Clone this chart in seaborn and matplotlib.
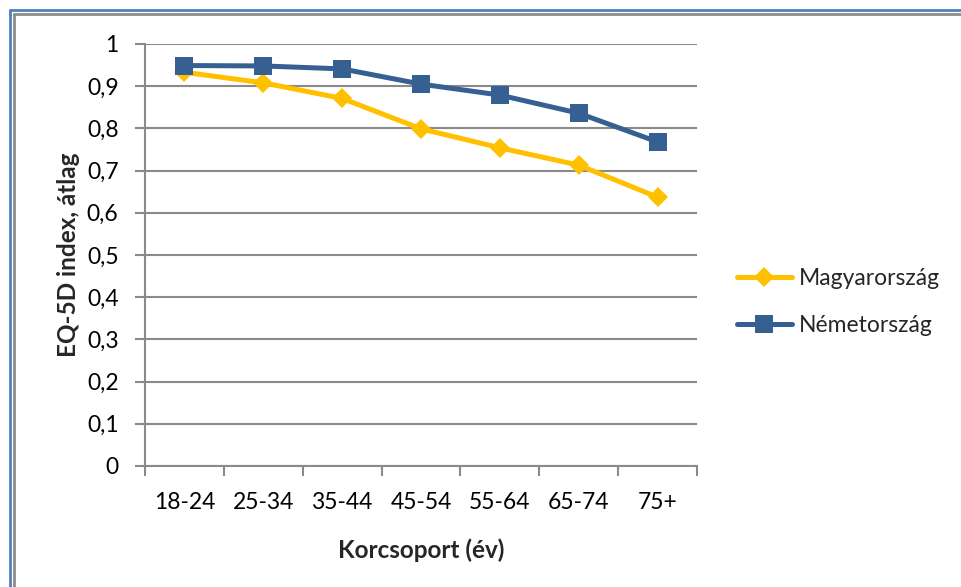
import matplotlib
matplotlib.use("Agg")
import matplotlib.pyplot as plt
from matplotlib.lines import Line2D
from matplotlib.ticker import FixedLocator, FuncFormatter
import numpy as np
import pandas as pd
import seaborn as sns

# Age groups and mean EQ-5D index per country
age_groups = ["18-24", "25-34", "35-44", "45-54", "55-64", "65-74", "75+"]
hungary = [0.933, 0.908, 0.871, 0.799, 0.754, 0.713, 0.637]
germany = [0.949, 0.948, 0.941, 0.905, 0.879, 0.836, 0.768]
series_names = ["Magyarország", "Németország"]
y_ticks = [0.0, 0.1, 0.2, 0.3, 0.4, 0.5, 0.6, 0.7, 0.8, 0.9, 1.0]

df = pd.DataFrame({
    "Korcsoport": age_groups * 2,
    "EQ5D": hungary + germany,
    "Ország": [series_names[0]] * len(age_groups) + [series_names[1]] * len(age_groups),
})

sns.set_theme(style="white")
plt.rcParams["font.family"] = ["Lato", "DejaVu Sans"]

YELLOW = "#FFC000"
BLUE = "#376092"
GRID = "#8A8A8A"
TICK_FS = 16.5
LABEL_FS = 17.5

fig = plt.figure(figsize=(9.61, 5.87), dpi=100)
ax = fig.add_axes([145 / 961, 1 - 466 / 587, (697 - 145) / 961, (466 - 44) / 587])

colors = {series_names[0]: YELLOW, series_names[1]: BLUE}
markers = {series_names[0]: "D", series_names[1]: "s"}
sizes = {series_names[0]: 10.5, series_names[1]: 13}

for name in series_names:
    sub = df[df["Ország"] == name]
    sns.lineplot(data=sub, x="Korcsoport", y="EQ5D", ax=ax, color=colors[name],
                 marker=markers[name], markersize=sizes[name], markeredgewidth=0,
                 linewidth=3.6, sort=False, legend=False)

ax.set_xlim(-0.5, len(age_groups) - 0.5)
ax.set_ylim(0, 1)

ax.yaxis.set_major_locator(FixedLocator(y_ticks))
ax.yaxis.set_major_formatter(FuncFormatter(lambda v, p: ("%g" % round(v, 1)).replace(".", ",")))
ax.grid(axis="y", color=GRID, linewidth=1.5)
ax.grid(axis="x", visible=False)

ax.set_xticks(range(len(age_groups)))
ax.set_xticklabels(age_groups)
ax.set_xticks(np.arange(-0.5, len(age_groups), 1.0), minor=True)
ax.tick_params(axis="x", which="major", length=0, pad=19, labelsize=TICK_FS, colors="black")
ax.tick_params(axis="x", which="minor", length=7, width=1.5, color=GRID, bottom=True)
ax.tick_params(axis="y", which="major", length=7, width=1.5, color=GRID, left=True,
               pad=12, labelsize=TICK_FS, labelcolor="black")

for side in ["top", "right"]:
    ax.spines[side].set_visible(False)
for side in ["left", "bottom"]:
    ax.spines[side].set_color(GRID)
    ax.spines[side].set_linewidth(1.5)
ax.set_axisbelow(True)

ax.set_xlabel("Korcsoport (év)", fontsize=LABEL_FS, fontweight="bold", labelpad=18)
ax.set_ylabel("EQ-5D index, átlag", fontsize=LABEL_FS, fontweight="bold", labelpad=5)

handles = [Line2D([], [], color=colors[n], marker=markers[n], markersize=sizes[n],
                  markeredgewidth=0, linewidth=3.6) for n in series_names]
fig.legend(handles, series_names, loc="center left", bbox_to_anchor=(716 / 961, 1 - 302 / 587),
           frameon=False, fontsize=TICK_FS, handlelength=2.4, handletextpad=0.3,
           labelspacing=1.15)

# Double frame along the top and left edges
fig.add_artist(Line2D([10 / 961, 10 / 961], [0, 1 - 10 / 587], color="#4F81BD", linewidth=2,
                      transform=fig.transFigure))
fig.add_artist(Line2D([10 / 961, 1], [1 - 10 / 587, 1 - 10 / 587], color="#4F81BD", linewidth=2,
                      transform=fig.transFigure))
fig.add_artist(Line2D([14 / 961, 14 / 961], [0, 1 - 14 / 587], color="#8C8C8C", linewidth=2,
                      transform=fig.transFigure))
fig.add_artist(Line2D([14 / 961, 1], [1 - 14 / 587, 1 - 14 / 587], color="#8C8C8C", linewidth=2,
                      transform=fig.transFigure))

fig.savefig("out.png", dpi=100)
